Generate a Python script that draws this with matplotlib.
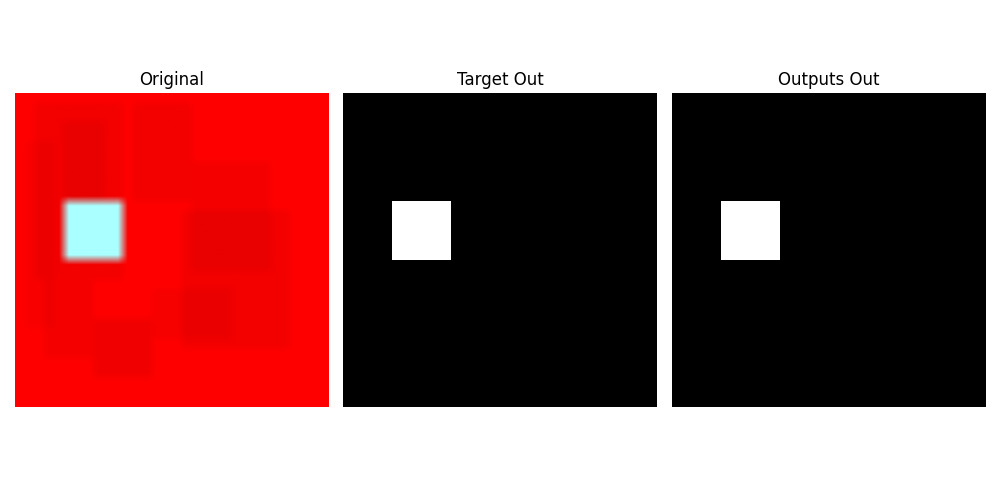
import numpy as np
import matplotlib.pyplot as plt

N = 32
# square object: col0, row0, size (in cells)
sq_col, sq_row, sq_size = 5, 11, 6
# darker blotches in the original: col0, col1, row0, row1, darkness
blotches = [
    (2, 11, 1, 19, 12),
    (5, 9, 3, 12, 10),
    (12, 18, 1, 11, 12),
    (18, 26, 7, 18, 10),
    (17, 28, 12, 26, 12),
    (8, 14, 23, 29, 14),
    (3, 8, 19, 27, 10),
    (14, 22, 20, 25, 8),
    (1, 4, 5, 24, 6),
]
cyan = (170, 255, 255)

orig = np.zeros((N, N, 3))
orig[:, :, 0] = 255
for c0, c1, r0, r1, d in blotches:
    orig[r0:r1, c0:c1, 0] -= d
orig[:, :, 0] = np.clip(orig[:, :, 0], 215, 255)
orig[sq_row:sq_row+sq_size, sq_col:sq_col+sq_size] = cyan
orig = orig / 255.0

mask = np.zeros((N, N))
mask[sq_row:sq_row+sq_size, sq_col:sq_col+sq_size] = 1

fig, axs = plt.subplots(1, 3, figsize=(10, 5))
axs[0].imshow(orig, interpolation='bilinear')
axs[0].set_title('Original')
axs[1].imshow(mask, cmap='gray', vmin=0, vmax=1)
axs[1].set_title('Target Out')
axs[2].imshow(mask, cmap='gray', vmin=0, vmax=1)
axs[2].set_title('Outputs Out')
for ax in axs:
    ax.axis('off')
plt.tight_layout()
plt.savefig('out.png')
